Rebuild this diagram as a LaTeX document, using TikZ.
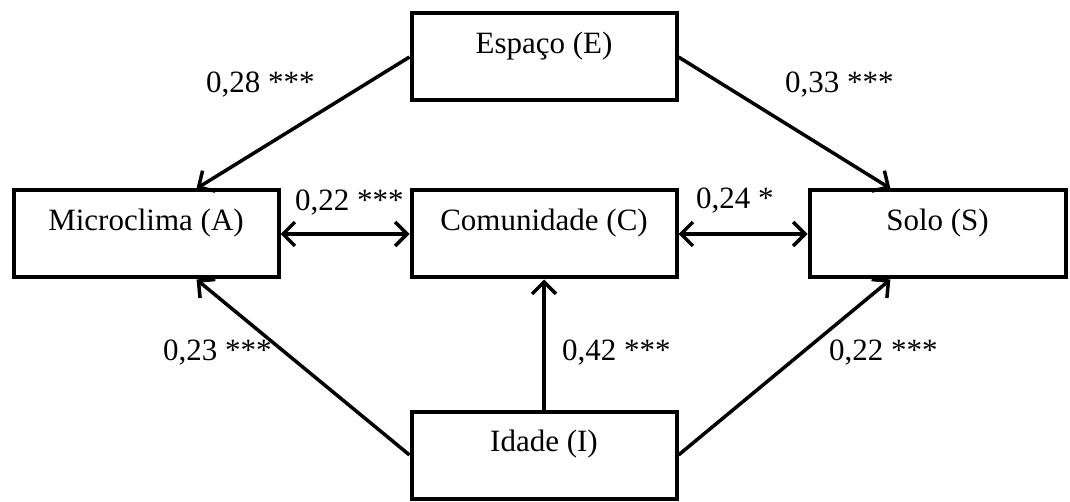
\documentclass[tikz,border=0pt]{standalone}
\usepackage{fontspec}
\setmainfont{Liberation Serif}
\usetikzlibrary{arrows.meta, positioning}

\begin{document}
\begin{tikzpicture}[x=1pt, y=-1pt, node distance={129pt},
		box/.style = {draw, line width=4pt, inner sep=0pt, minimum width=265pt,
			text height=40pt, text depth=47pt, font=\fontsize{31}{35}\selectfont},
		coef/.style = {anchor=base west, inner sep=0pt, font=\fontsize{31}{35}\selectfont},
		path/.style = {line width=3.5pt, -{Straight Barb[length=12pt, width=24pt, line width=3.5pt]}},
		both/.style = {line width=3.5pt, {Straight Barb[length=12pt, width=24pt, line width=3.5pt]}-{Straight Barb[length=12pt, width=24pt, line width=3.5pt]}}]
		\useasboundingbox (0,0) rectangle (1070,502);
		\node[box] (C) at (544,234) {Comunidade (C)};
		\node[box] (A) [left=129pt of C] {Microclima (A)};
		\node[box, minimum width=256pt] (S) [right=129pt of C] {Solo (S)};
		\node[box] (E) [above=86pt of C] {Espaço (E)};
		\node[box] (I) [below=130pt of C] {Idade (I)};
		\draw[path] (E.west) -- (A.42);
		\draw[path] (E.east) -- (S.136);
		\draw[both] (A) -- (C);
		\draw[both] (C) -- (S);
		\draw[path] (I) -- (C);
		\draw[path] (I.west) -- (A.-42);
		\draw[path] (I.east) -- (S.-136);
		% coefficients
		\node[coef] (e28) at (206,93) {0,28 ***};
		\node[coef] (e33) at (785,93) {0,33 ***};
		\node[coef] (e22a) at (295,211) {0,22 ***};
		\node[coef] (e24) at (696,209) {0,24 *};
		\node[coef] (e23) at (163,360) {0,23 ***};
		\node[coef] (e42) at (562,360) {0,42 ***};
		\node[coef] (e22b) at (829,360) {0,22 ***};
	\end{tikzpicture}
\end{document}
